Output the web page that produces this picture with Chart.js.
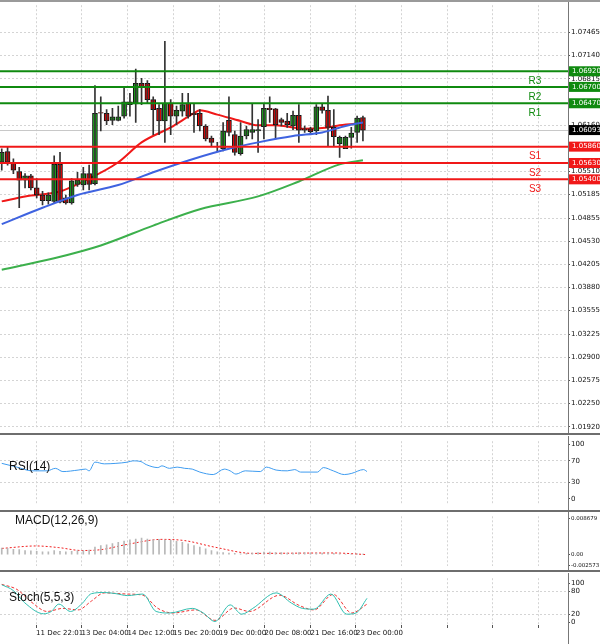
<!DOCTYPE html>
<html>
<head>
<meta charset="utf-8">
<script src="https://cdn.jsdelivr.net/npm/chart.js@4/dist/chart.umd.min.js"></script>
<style>
  body { margin: 0; background: #fff; }
  #wrap { position: relative; width: 600px; height: 644px; overflow: hidden; background: #fff; font-family: 'Liberation Sans', Arial, sans-serif; }
  .pane { position: absolute; left: 0; width: 600px; }
  .sep { position: absolute; left: 0; width: 600px; height: 2px; background: #6e6e6e; }
  .title { position: absolute; font-size: 12px; color: #111; }
</style>
</head>
<body>
<div id="wrap">
  <div class="pane" style="top:0;height:433px"><canvas id="main"></canvas></div>
  <div class="sep" style="top:433px"></div>
  <div class="pane" style="top:436px;height:74px"><canvas id="rsi"></canvas></div>
  <div class="sep" style="top:510px"></div>
  <div class="pane" style="top:512px;height:58px"><canvas id="macd"></canvas></div>
  <div class="sep" style="top:570px"></div>
  <div class="pane" style="top:573px;height:71px"><canvas id="stoch"></canvas></div>
  <div class="sep" style="top:0;height:2px;background:#9a9a9a"></div>
  <div class="title" style="left:9px;top:459px">RSI(14)</div>
  <div class="title" style="left:15px;top:513px">MACD(12,26,9)</div>
  <div class="title" style="left:9px;top:590px">Stoch(5,5,3)</div>
</div>
<script>
// ── Candles (4h bars) ───────────────────────────────────────
const OPEN  = [1.0564,1.0579,1.0564,1.0551,1.0539,1.0545,1.0528,1.0518,1.0510,1.0509,
               1.0561,1.0514,1.0507,1.0533,1.0532,1.0548,1.0534,1.0634,1.0633,1.0623,
               1.0623,1.0629,1.0649,1.0646,1.0675,1.0675,1.0652,1.0640,1.0622,1.0647,
               1.0629,1.0636,1.0647,1.0633,1.0633,1.0615,1.0598,1.0583,1.0583,1.0623,
               1.0603,1.0576,1.0601,1.0606,1.0608,1.0614,1.0640,1.0639,1.0624,1.0622,
               1.0615,1.0630,1.0611,1.0611,1.0608,1.0642,1.0637,1.0613,1.0590,1.0583,
               1.0599,1.0606,1.0627];
const HIGH  = [1.0583,1.0585,1.0569,1.0557,1.0548,1.0547,1.0541,1.0523,1.0521,1.0573,
               1.0578,1.0518,1.0541,1.0550,1.0557,1.0560,1.0672,1.0656,1.0638,1.0640,
               1.0643,1.0670,1.0661,1.0695,1.0682,1.0679,1.0656,1.0645,1.0734,1.0652,
               1.0643,1.0661,1.0661,1.0647,1.0638,1.0617,1.0601,1.0592,1.0620,1.0656,
               1.0608,1.0620,1.0615,1.0647,1.0624,1.0647,1.0656,1.0640,1.0626,1.0633,
               1.0636,1.0645,1.0615,1.0613,1.0645,1.0647,1.0657,1.0638,1.0601,1.0601,
               1.0613,1.0629,1.0629];
const LOW   = [1.0553,1.0560,1.0548,1.0500,1.0528,1.0525,1.0514,1.0504,1.0505,1.0507,
               1.0507,1.0505,1.0505,1.0530,1.0525,1.0525,1.0532,1.0608,1.0617,1.0617,
               1.0622,1.0626,1.0629,1.0620,1.0645,1.0647,1.0603,1.0603,1.0592,1.0603,
               1.0617,1.0629,1.0626,1.0606,1.0608,1.0594,1.0587,1.0580,1.0580,1.0601,
               1.0574,1.0574,1.0597,1.0597,1.0578,1.0597,1.0620,1.0597,1.0615,1.0613,
               1.0610,1.0592,1.0606,1.0603,1.0603,1.0633,1.0587,1.0587,1.0571,1.0583,
               1.0584,1.0592,1.0594];
const CLOSE = [1.0578,1.0564,1.0553,1.0539,1.0545,1.0528,1.0518,1.0510,1.0518,1.0561,
               1.0508,1.0507,1.0538,1.0539,1.0548,1.0533,1.0633,1.0633,1.0622,1.0628,
               1.0628,1.0649,1.0645,1.0675,1.0670,1.0652,1.0638,1.0622,1.0647,1.0629,
               1.0637,1.0645,1.0629,1.0631,1.0615,1.0597,1.0592,1.0583,1.0608,1.0606,
               1.0578,1.0601,1.0610,1.0610,1.0610,1.0640,1.0638,1.0617,1.0620,1.0617,
               1.0630,1.0609,1.0609,1.0607,1.0642,1.0637,1.0613,1.0600,1.0599,1.0599,
               1.0605,1.0626,1.0609];

// ── Moving averages (read at a few bars) ────────────────────
const MA_RED_X   = [0,4,10,14,20,24,29,33,34,37,41,44,47,52,56,58,62];
const MA_RED_Y   = [1.0509,1.0516,1.0523,1.0537,1.0564,1.0592,1.0613,1.0633,1.0637,1.0631,1.0622,1.0616,1.0616,1.0611,1.0613,1.0616,1.0619];
const MA_BLUE_X  = [0,7,13,20,26,33,39,44,50,55,59,62];
const MA_BLUE_Y  = [1.0477,1.0500,1.0518,1.0532,1.0550,1.0569,1.0583,1.0592,1.0601,1.0606,1.0615,1.0620];
const MA_GREEN_X = [0,9,17,26,34,44,51,58,62];
const MA_GREEN_Y = [1.0413,1.0429,1.0447,1.0475,1.0498,1.0516,1.0537,1.0561,1.0567];

// ── Support / resistance ────────────────────────────────────
const RES_LEVELS = [1.0692,1.0670,1.0647];
const RES_NAMES  = ['R3','R2','R1'];
const SUP_LEVELS = [1.0586,1.0563,1.0540];
const SUP_NAMES  = ['S1','S2','S3'];
const LAST_PRICE = 1.06093;

const PRICE_TICKS  = [1.07465,1.07140,1.06815,1.06160,1.05510,1.05185,1.04855,1.04530,1.04205,1.03880,1.03555,1.03225,1.02900,1.02575,1.02250,1.01920];
const TIME_X       = [5.9,13.7,21.6,29.4,37.3,45.1,53.0,60.8,68.6,76.5,84.3,92.2];
const TIME_LABELS  = ['11 Dec 22:01','13 Dec 04:00','14 Dec 12:00','15 Dec 20:00','19 Dec 00:00','20 Dec 08:00','21 Dec 16:00','23 Dec 00:00','','','',''];

// ── Indicators ──────────────────────────────────────────────
const RSI_X = [0,2.6,5.2,7.8,9.2,10.5,13.1,14.4,15.0,16.0,17.6,19.6,21.6,22.5,23.9,24.8,26.8,27.5,28.8,30.1,
               31.4,32.7,34.0,36.3,38.2,39.2,40.2,41.8,44.4,45.4,47.1,49.0,50.3,51.3,54.2,55.2,56.9,58.8,60.1,62.1,62.7];
const RSI_Y = [65.4,58.5,51.6,51.6,56.2,50.2,53.0,54.8,51.6,67.7,64.5,65.4,67.7,70,68.6,63.1,57.6,60.8,56.2,58.5,
               56.2,54.8,49.3,44.7,54.8,51.6,45.6,51.6,50.2,58.5,53.0,51.6,53.9,49.3,49.3,57.6,51.6,44.7,47,53.9,50.2];
const RSI_TICKS = [100,70,30,0];

const MACD_HIST = [0.0016,0.0015,0.0013,0.0012,0.0010,0.0009,0.0008,0.0007,0.0007,0.0010,
                   0.0008,0.0007,0.0008,0.0010,0.0010,0.0011,0.0018,0.0022,0.0024,0.0027,
                   0.0030,0.0033,0.0036,0.0038,0.0040,0.0038,0.0036,0.0037,0.0036,0.0035,
                   0.0032,0.0030,0.0026,0.0022,0.0018,0.0014,0.0010,0.0007,0.0005,0.0004,
                   0.0003,0.0002,0.0003,0.0004,0.0005,0.0006,0.0006,0.0005,0.0005,0.0004,
                   0.0004,0.0005,0.0005,0.0004,0.0004,0.0004,0.0004,0.0003,0.0002,0.0001,
                   0.0001,0.0002,0.0001];
const MACD_SIG_X = [0,5.9,9.8,13.7,17.0,21.6,27.5,31.4,36.6,43.1,56.9,62.7];
const MACD_SIG_Y = [0.0015,0.0021,0.0017,0.0010,0.0012,0.0025,0.0037,0.0034,0.0018,0.0003,0.0004,0.0000];
const MACD_TICKS = [0.008679,0,-0.002573];
const MACD_LABELS = ['0.008679','0.00','-0.002573'];

const STOCH_X = [0,2.0,3.9,7.2,8.5,9.8,11.8,13.7,15.4,17.6,19.6,21.6,24.2,26.5,28.8,32.7,34.6,36.6,39.2,41.2,
                 43.1,47.1,49.7,51.6,53.6,56.5,59.2,60.8,62.7];
const STOCH_Y = [97,82,51,22,28,47,28,47,74,77,74,69,73,28,24,36,24,2,45,21,36,76,50,36,34,73,21,24,62];
const STOCH_SIG_X = [0,2.6,5.2,7.8,10.5,13.1,15.4,17.6,21.6,24.2,26.8,29.4,33.3,36.6,39.9,42.5,47.7,51.0,53.6,56.9,60.1,62.7];
const STOCH_SIG_Y = [98,85,51,28,36,32,55,76,73,70,36,24,32,5,37,28,70,44,32,72,24,47];
const STOCH_TICKS = [100,80,20,0];

// ── Shared bits ─────────────────────────────────────────────
const X_MIN = -0.3, X_MAX = 97.2;
const AXIS_FONT = { size: 7, family: "'DejaVu Sans'" };
const GRID = '#d4d4d4';
const pts = (xs, ys) => xs.map((x, i) => ({ x, y: ys[i] }));

function xScale(showLabels) {
  return {
    type: 'linear', min: X_MIN, max: X_MAX, offset: false,
    afterBuildTicks: s => { s.ticks = TIME_X.map(v => ({ value: v })); },
    afterFit: s => { s.height = showLabels ? 19 : 0; },
    grid: { color: GRID, drawTicks: showLabels, tickLength: 3, tickColor: '#555', offset: false },
    border: { display: false, dash: [2, 2] },
    ticks: {
      display: showLabels, color: '#111', font: AXIS_FONT, align: 'start', padding: 1, maxRotation: 0, autoSkip: false,
      callback: (v, i) => TIME_LABELS[i]
    }
  };
}

function yScale(min, max, ticks, labels, gridAt, fontSize) {
  return {
    position: 'right', min, max,
    afterBuildTicks: s => { s.ticks = ticks.map(v => ({ value: v })); },
    afterFit: s => { s.width = 32; },
    grid: {
      color: c => (gridAt === null || gridAt.includes(c.tick.value)) ? GRID : 'rgba(0,0,0,0)',
      drawTicks: true, tickLength: 2, tickColor: '#555'
    },
    border: { display: false, dash: [2, 2] },
    ticks: { color: '#111', font: { ...AXIS_FONT, size: fontSize || 7 }, padding: 1, autoSkip: false,
      callback: (v, i) => labels ? labels[i] : v }
  };
}

// axis line on the right edge of each plot
const axisLine = {
  id: 'axisLine',
  afterDraw(chart) {
    const { ctx, chartArea: a } = chart;
    ctx.save();
    ctx.strokeStyle = '#777'; ctx.lineWidth = 1;
    ctx.beginPath(); ctx.moveTo(a.right + 0.5, 0); ctx.lineTo(a.right + 0.5, chart.height); ctx.stroke();
    ctx.restore();
  }
};

// S/R lines, price boxes and R/S names
const levels = {
  id: 'levels',
  beforeDatasetsDraw(chart) {
    const { ctx, chartArea: a, scales: { y } } = chart;
    ctx.save();
    const py = Math.round(y.getPixelForValue(LAST_PRICE)) + 0.5;
    ctx.strokeStyle = '#c8c8c8'; ctx.lineWidth = 1;
    ctx.beginPath(); ctx.moveTo(a.left, py); ctx.lineTo(a.right, py); ctx.stroke();
    ctx.restore();
  },
  afterDraw(chart) {
    const { ctx, chartArea: a, scales: { y } } = chart;
    ctx.save();
    const draw = (vals, names, col) => {
      vals.forEach((v, i) => {
        const p = y.getPixelForValue(v);
        ctx.strokeStyle = col; ctx.lineWidth = 2;
        ctx.beginPath(); ctx.moveTo(a.left, p); ctx.lineTo(a.right, p); ctx.stroke();
        ctx.fillStyle = col;
        ctx.fillRect(a.right + 1, p - 5, 32, 10);
        ctx.fillStyle = '#fff'; ctx.font = "7px 'DejaVu Sans'";
        ctx.textAlign = 'left'; ctx.textBaseline = 'middle';
        ctx.fillText(v.toFixed(5), a.right + 4, p);
        ctx.fillStyle = col; ctx.font = "10px 'Liberation Sans'"; ctx.textAlign = 'center';
        ctx.fillText(names[i], 535, p + 10);
      });
    };
    draw(RES_LEVELS, RES_NAMES, '#0f8a0f');
    draw(SUP_LEVELS, SUP_NAMES, '#f01818');
    const p = y.getPixelForValue(LAST_PRICE);
    ctx.fillStyle = '#000'; ctx.fillRect(a.right + 1, p - 5, 32, 10);
    ctx.fillStyle = '#fff'; ctx.font = "7px 'DejaVu Sans'"; ctx.textAlign = 'left'; ctx.textBaseline = 'middle';
    ctx.fillText(LAST_PRICE.toFixed(5), a.right + 4, p);
    ctx.restore();
  }
};

const BASE = {
  responsive: true, maintainAspectRatio: false, animation: false,
  layout: { padding: 0 },
  plugins: { legend: { display: false }, tooltip: { enabled: false } },
  elements: { point: { radius: 0 } }
};

function line(data, color, dash, width) {
  return { type: 'line', data, borderColor: color, borderWidth: width || 1, borderDash: dash || [],
    pointRadius: 0, tension: 0.35, cubicInterpolationMode: 'monotone', fill: false };
}

// ── Main price chart ────────────────────────────────────────
const candleColor = OPEN.map((o, i) => CLOSE[i] >= o ? '#19a319' : '#f00000');
new Chart(document.getElementById('main'), {
  type: 'bar',
  data: {
    datasets: [
      line(pts(MA_GREEN_X, MA_GREEN_Y), '#3cb04c', [], 2),
      line(pts(MA_BLUE_X, MA_BLUE_Y), '#3f63e0', [], 2),
      { type: 'bar', grouped: false, data: OPEN.map((_, i) => ({ x: i, y: [LOW[i], HIGH[i]] })),
        backgroundColor: '#333', barThickness: 1 },
      { type: 'bar', grouped: false, data: OPEN.map((o, i) => ({ x: i, y: [o, CLOSE[i]] })),
        backgroundColor: candleColor, borderColor: '#111', borderWidth: 1, borderSkipped: false, barThickness: 5 },
      line(pts(MA_RED_X, MA_RED_Y), '#f01818', [], 2),
    ]
  },
  options: { ...BASE, scales: {
    x: xScale(false),
    y: yScale(1.01906, 1.07849, PRICE_TICKS, PRICE_TICKS.map(v => v.toFixed(5)), null)
  } },
  plugins: [levels, axisLine]
});

// ── RSI ─────────────────────────────────────────────────────
new Chart(document.getElementById('rsi'), {
  type: 'line',
  data: { datasets: [line(pts(RSI_X, RSI_Y), '#3f9cf0')] },
  options: { ...BASE, scales: { x: xScale(false), y: yScale(-11.1, 106.3, RSI_TICKS, null, [70, 30]) } },
  plugins: [axisLine]
});

// ── MACD ────────────────────────────────────────────────────
new Chart(document.getElementById('macd'), {
  type: 'bar',
  data: { datasets: [
    { type: 'bar', data: MACD_HIST.map((v, i) => ({ x: i, y: v })), backgroundColor: '#b8b8b8', barThickness: 1 },
    line(pts(MACD_SIG_X, MACD_SIG_Y), '#f02020', [2, 2])
  ] },
  options: { ...BASE, scales: { x: xScale(false), y: yScale(-0.00269, 0.0093, MACD_TICKS, MACD_LABELS, [], 5.5) } },
  plugins: [axisLine]
});

// ── Stochastic ──────────────────────────────────────────────
new Chart(document.getElementById('stoch'), {
  type: 'line',
  data: { datasets: [
    line(pts(STOCH_X, STOCH_Y), '#30bfb0'),
    line(pts(STOCH_SIG_X, STOCH_SIG_Y), '#f03030', [3, 2])
  ] },
  options: { ...BASE, scales: { x: xScale(true), y: yScale(-7, 114, STOCH_TICKS, null, [80, 20]) } },
  plugins: [axisLine]
});
</script>
</body>
</html>
